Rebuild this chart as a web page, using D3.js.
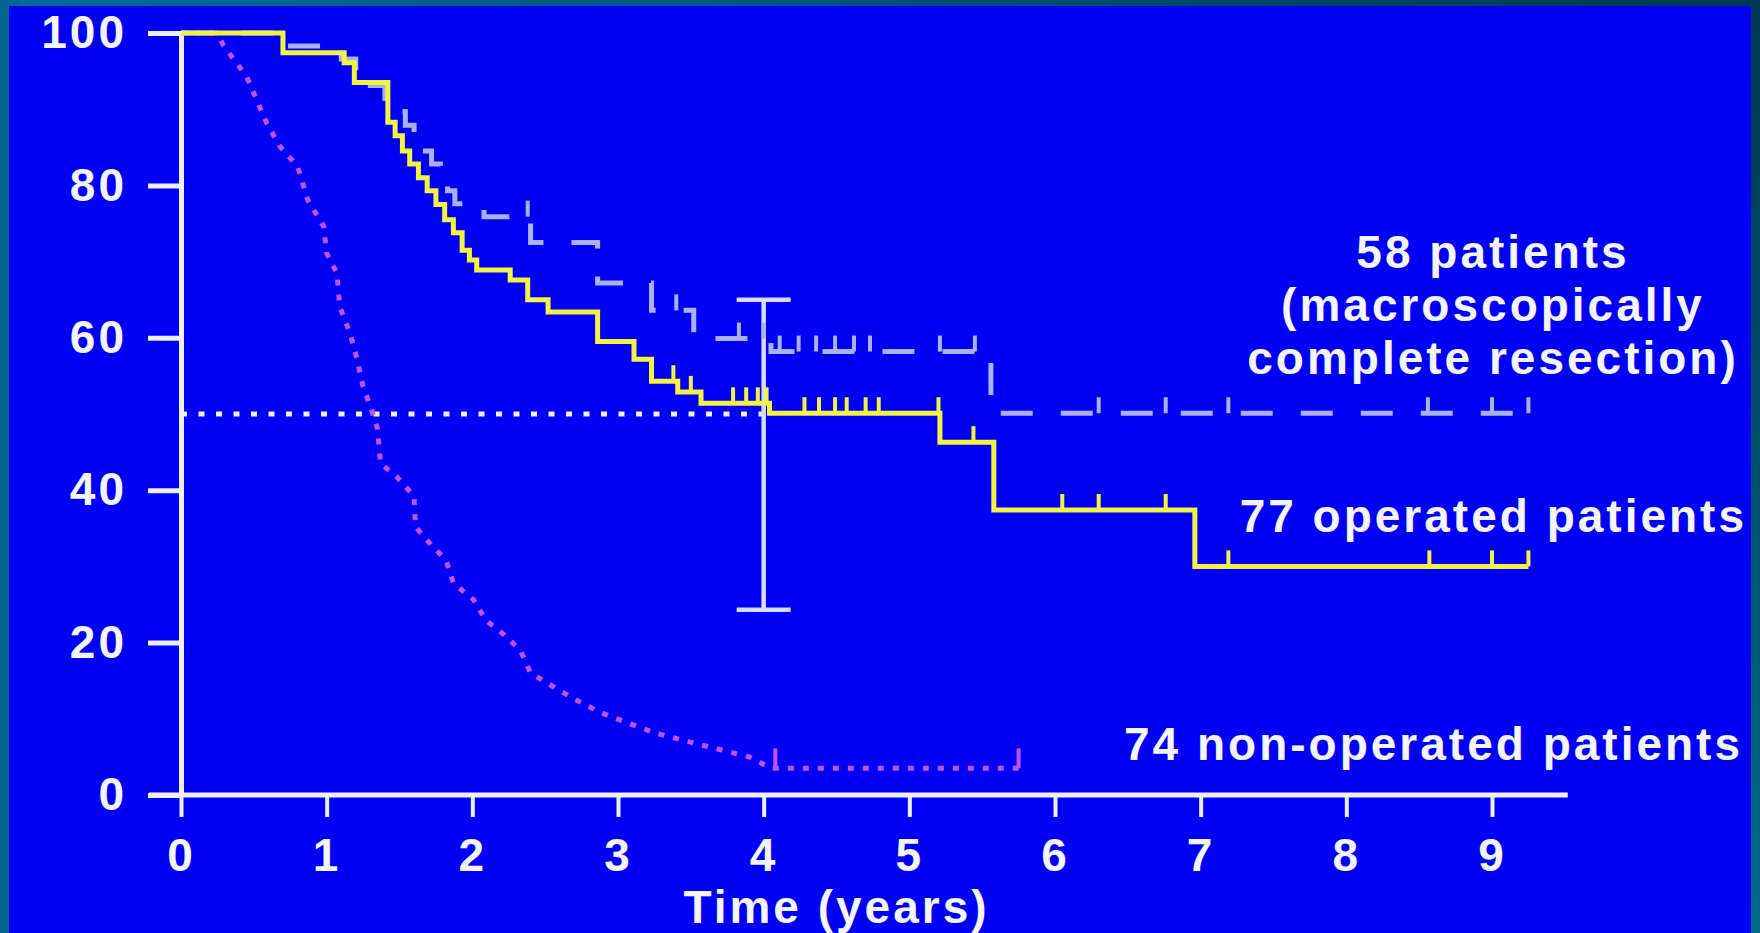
<!DOCTYPE html>
<html>
<head>
<meta charset="utf-8">
<script src="https://cdn.jsdelivr.net/npm/d3@7"></script>
<style>
  body { margin: 0; background: #0000f5; overflow: hidden; }
  text { font-family: "Liberation Sans", Arial, sans-serif; font-weight: bold; fill: #f4f4ff; letter-spacing: 3px; }
</style>
</head>
<body>
<div id="chart"></div>
<script>
var svgWidth = 1760;
var svgHeight = 933;

// 77 operated patients (step times in years, survival %)
var opTimes = [0, 0.70, 1.12, 1.19, 1.42, 1.47, 1.52, 1.57, 1.63, 1.69, 1.75, 1.81, 1.87, 1.93, 1.98, 2.03, 2.26, 2.38, 2.52, 2.86, 3.11, 3.23, 3.41, 3.57, 4.04, 5.21, 5.58, 6.96, 9.25];
var opSurv  = [100, 97.4, 96.1, 93.5, 88.3, 86.5, 84.5, 82.8, 81.0, 79.3, 77.5, 75.5, 73.8, 71.5, 70.2, 68.9, 67.6, 65.0, 63.4, 59.5, 57.2, 54.3, 52.9, 51.4, 50.1, 46.3, 37.4, 30.0, 30.0];
var opCensor = [3.38, 3.50, 3.79, 3.88, 3.96, 4.02, 4.28, 4.38, 4.49, 4.57, 4.70, 4.79, 5.20, 5.44, 6.05, 6.30, 6.76, 7.19, 8.57, 9.00, 9.25];

// 58 patients, macroscopically complete resection
var resTimes = [0, 0.70, 1.10, 1.20, 1.30, 1.40, 1.47, 1.54, 1.60, 1.66, 1.72, 1.78, 1.83, 1.88, 2.08, 2.40, 2.86, 3.23, 3.52, 4.05, 5.56, 9.25];
var resSurv  = [100, 98.3, 96.6, 94.8, 93.1, 91.4, 89.7, 87.9, 86.2, 84.5, 82.8, 81.0, 79.3, 77.6, 75.9, 72.5, 67.2, 63.6, 59.9, 58.2, 50.1, 50.1];
var resCensor = [2.38, 3.40, 3.83, 4.00, 4.11, 4.24, 4.36, 4.49, 4.62, 4.73, 5.21, 5.45, 6.30, 6.76, 7.19, 8.56, 9.00, 9.25];

// 74 non-operated patients
var nonTimes = [0, 0.25, 0.29, 0.45, 0.59, 0.68, 0.80, 0.87, 0.98, 1.00, 1.07, 1.09, 1.16, 1.21, 1.25, 1.30, 1.35, 1.36, 1.37, 1.48, 1.60, 1.61, 1.71, 1.82, 1.87, 2.01, 2.09, 2.22, 2.33, 2.40, 2.54, 2.70, 2.86, 2.95, 3.26, 3.63, 3.90, 4.05, 5.75];
var nonSurv  = [100, 100, 98.4, 94.3, 88.1, 85.1, 82.5, 78.1, 74.6, 71.1, 68.5, 64.1, 60.6, 57.1, 53.6, 51.0, 48.0, 45.7, 43.5, 41.8, 39.2, 35.2, 33.0, 30.8, 27.8, 25.6, 23.0, 21.0, 19.0, 16.0, 14.4, 12.6, 11.0, 10.3, 8.1, 6.3, 5.0, 3.5, 3.5];
var nonCensor = [4.08, 5.75];

// median line and confidence interval at 4 years
var medianSurv = 50;
var ciTime = 4;
var ciLow = 24.3;
var ciHigh = 65.0;

var xTicks = [0, 1, 2, 3, 4, 5, 6, 7, 8, 9];
var yTicks = [0, 20, 40, 60, 80, 100];
var xTitle = "Time (years)";
var resLabel = ["58 patients", "(macroscopically", "complete resection)"];
var opLabel = "77 operated patients";
var nonLabel = "74 non-operated patients";

var svg = d3.select("#chart")
  .append("svg")
  .attr("width", svgWidth)
  .attr("height", svgHeight);

// slide frame
var defs = svg.append("defs");
var grad = defs.append("linearGradient").attr("id", "frame")
  .attr("x1", 0).attr("y1", 0).attr("x2", 1).attr("y2", 0);
grad.append("stop").attr("offset", "0%").attr("stop-color", "#006c9c");
grad.append("stop").attr("offset", "100%").attr("stop-color", "#003752");
var gradR = defs.append("linearGradient").attr("id", "frameR")
  .attr("x1", 0).attr("y1", 0).attr("x2", 0).attr("y2", 1);
gradR.append("stop").attr("offset", "0%").attr("stop-color", "#003752");
gradR.append("stop").attr("offset", "100%").attr("stop-color", "#006a86");

svg.append("rect").attr("width", svgWidth).attr("height", svgHeight).attr("fill", "url(#frame)");
svg.append("rect").attr("x", 1740).attr("y", 0).attr("width", 20).attr("height", svgHeight).attr("fill", "url(#frameR)");
svg.append("rect").attr("x", 0).attr("y", 0).attr("width", 20).attr("height", svgHeight).attr("fill", "#00658f");
svg.append("rect").attr("x", 9).attr("y", 6).attr("width", 1742).attr("height", svgHeight).attr("fill", "#0000f5");

// scales
var x = d3.scaleLinear().domain([0, 9]).range([181, 1492]);
var y = d3.scaleLinear().domain([0, 100]).range([795, 33]);

var white = "#eef0ff";

// y axis
var yAxis = svg.append("g")
  .attr("transform", "translate(181,0)")
  .call(d3.axisLeft(y).tickValues(yTicks).tickSize(33).tickPadding(21).tickSizeOuter(0));
yAxis.select(".domain").attr("stroke", white).attr("stroke-width", 5);
yAxis.selectAll(".tick line").attr("stroke", white).attr("stroke-width", 5);
yAxis.selectAll(".tick text").style("font-size", "46px").attr("fill", "#f4f4ff");

// x axis
var xAxis = svg.append("g")
  .attr("transform", "translate(0," + y(0) + ")")
  .call(d3.axisBottom(x).tickValues(xTicks).tickSize(22).tickPadding(21).tickSizeOuter(0));
xAxis.select(".domain").remove();
xAxis.selectAll(".tick line").attr("stroke", white).attr("stroke-width", 4);
xAxis.selectAll(".tick text").style("font-size", "46px").attr("fill", "#f4f4ff");
xAxis.append("line")
  .attr("x1", x(-0.22)).attr("x2", x(9.52))
  .attr("y1", 0).attr("y2", 0)
  .attr("stroke", white).attr("stroke-width", 5);

svg.append("text")
  .attr("x", x(4.5)).attr("y", 923)
  .attr("text-anchor", "middle")
  .style("font-size", "46px")
  .text(xTitle);

// median line
svg.append("line")
  .attr("x1", x(0)).attr("x2", x(ciTime))
  .attr("y1", y(medianSurv)).attr("y2", y(medianSurv))
  .attr("stroke", white).attr("stroke-width", 5)
  .attr("stroke-dasharray", "6,11.5");

// confidence interval bar
var ci = svg.append("g").attr("stroke", "#d6dcff").attr("stroke-width", 4.5);
ci.append("line").attr("x1", x(ciTime)).attr("x2", x(ciTime)).attr("y1", y(ciHigh)).attr("y2", y(ciLow));
ci.append("line").attr("x1", x(ciTime) - 27).attr("x2", x(ciTime) + 27).attr("y1", y(ciHigh)).attr("y2", y(ciHigh));
ci.append("line").attr("x1", x(ciTime) - 27).attr("x2", x(ciTime) + 27).attr("y1", y(ciLow)).attr("y2", y(ciLow));

function survAt(times, surv, t) {
  var i = d3.bisectRight(times, t) - 1;
  return surv[Math.max(i, 0)];
}

function drawCurve(times, surv, censor, color, curve, dash, tickH) {
  var pts = times.map(function(t, i) { return [t, surv[i]]; });
  var line = d3.line()
    .x(function(d) { return x(d[0]); })
    .y(function(d) { return y(d[1]); })
    .curve(curve);
  svg.append("path")
    .datum(pts)
    .attr("d", line)
    .attr("fill", "none")
    .attr("stroke", color)
    .attr("stroke-width", 5)
    .attr("stroke-dasharray", dash);
  svg.selectAll(null)
    .data(censor)
    .enter()
    .append("line")
    .attr("x1", function(d) { return x(d); })
    .attr("x2", function(d) { return x(d); })
    .attr("y1", function(d) { return y(survAt(times, surv, d)); })
    .attr("y2", function(d) { return y(survAt(times, surv, d)) - tickH; })
    .attr("stroke", color)
    .attr("stroke-width", 4);
}

drawCurve(nonTimes, nonSurv, nonCensor, "#c650f0", d3.curveLinear, "6,9", 20);
drawCurve(resTimes, resSurv, resCensor, "#a9b2f0", d3.curveStepAfter, "32,28", 16);
drawCurve(opTimes, opSurv, opCensor, "#f2f240", d3.curveStepAfter, null, 16);

// annotations
var res = svg.append("text")
  .attr("text-anchor", "middle")
  .style("font-size", "46px");
res.selectAll("tspan")
  .data(resLabel)
  .enter()
  .append("tspan")
  .attr("x", 1493)
  .attr("y", function(d, i) { return 268 + i * 53; })
  .text(function(d) { return d; });

svg.append("text")
  .attr("x", 1747).attr("y", 532)
  .attr("text-anchor", "end")
  .style("font-size", "46px")
  .text(opLabel);

svg.append("text")
  .attr("x", 1743).attr("y", 760)
  .attr("text-anchor", "end")
  .style("font-size", "46px")
  .text(nonLabel);
</script>
</body>
</html>
